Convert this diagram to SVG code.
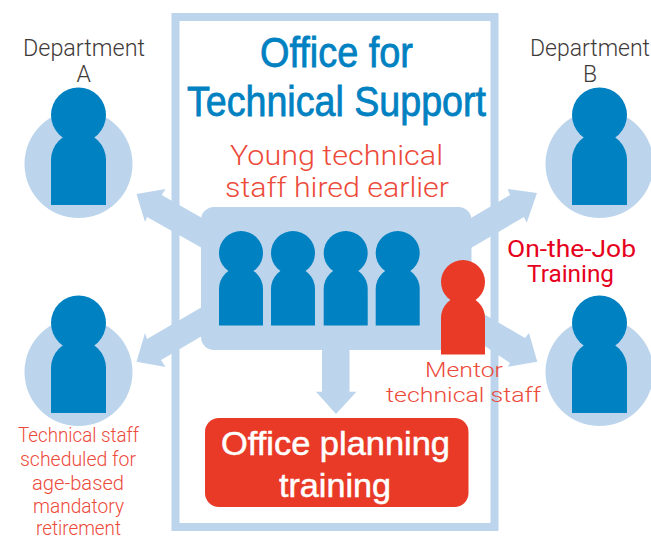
<svg xmlns="http://www.w3.org/2000/svg" width="651" height="540" viewBox="0 0 651 540">
<style>
text{font-family:"Liberation Sans",Arial,sans-serif;text-anchor:start}
.l{font-family:Roboto,"Liberation Sans",sans-serif;font-weight:300}
.arrow{fill:#bcd5ec}
.bg{fill:#bcd5ec}
.blue{fill:#0081c1}
.red{fill:#e83a27}
.dark{fill:#3e3a39;font-size:23px}
.title{fill:#0081c1;stroke:#0081c1;stroke-width:.8px;font-size:43px}
.sub{fill:#ec4a3a;font-size:28px}
.ment{fill:#ec4a3a;font-size:21px}
.ret{fill:#ec4a3a;font-size:20.5px}
.ojt{fill:#e60020;font-size:23px;font-family:Roboto,"Liberation Sans",sans-serif}
.big{fill:#fff;stroke:#fff;stroke-width:.5px;font-size:33px}
</style>
<defs>
<g id="person"><circle cx="0" cy="-49" r="27.5"/><path d="M-27.5 41V-4A27.5 27.5 0 0 1 27.5 -4V41Z"/></g>
<g id="small"><circle cx="0" cy="0" r="22"/><path d="M-22 72.500V36A22 22 0 0 1 22 36V72.500Z"/></g>
</defs>
<g id="frame"><rect x="175.500" y="17" width="319" height="510" fill="#fff" stroke="#bcd5ec" stroke-width="8"/></g>
<g id="connectors">
<path class="arrow" d="M202 218L161.700 195L165.500 189L136.500 194L145 222L147 217L202 248Z"/>
<path class="arrow" d="M471 218L510 195L507.700 189L537 193L526.700 222.700L524 217L471 248Z"/>
<path class="arrow" d="M202 307L147 339L145 333L136.500 361.700L165.500 367L161 360L202 336Z"/>
<path class="arrow" d="M470 306L525 338L529 333L537.300 361.700L507.700 366.700L510 363L470 336Z"/>
<path class="arrow" d="M322 340V391.700H316L336 414L356.500 391.700H349.500V340Z"/>
</g>
<g id="dept-a"><circle class="bg" cx="78.500" cy="164" r="54"/><use href="#person" class="blue" x="78.500" y="164"/>
<text class="l dark" x="23" y="56" textLength="122" lengthAdjust="spacingAndGlyphs">Department</text><text class="l dark" x="76.500" y="82">A</text></g>
<g id="dept-b"><circle class="bg" cx="599.500" cy="164" r="54"/><use href="#person" class="blue" x="599.500" y="164"/>
<text class="l dark" x="530" y="56" textLength="120" lengthAdjust="spacingAndGlyphs">Department</text><text class="l dark" x="583" y="82">B</text></g>
<g id="retiring"><circle class="bg" cx="78.500" cy="372" r="54"/><use href="#person" class="blue" x="78.500" y="372"/>
<text class="l ret" x="18" y="442" textLength="121" lengthAdjust="spacingAndGlyphs">Technical staff</text>
<text class="l ret" x="20" y="466" textLength="116" lengthAdjust="spacingAndGlyphs">scheduled for</text>
<text class="l ret" x="32" y="490" textLength="92" lengthAdjust="spacingAndGlyphs">age-based</text>
<text class="l ret" x="33" y="513" textLength="91" lengthAdjust="spacingAndGlyphs">mandatory</text>
<text class="l ret" x="36" y="535" textLength="85" lengthAdjust="spacingAndGlyphs">retirement</text></g>
<g id="ojt-dept"><circle class="bg" cx="599.500" cy="372" r="54"/><use href="#person" class="blue" x="599.500" y="372"/></g>
<g id="office-title">
<text class="title" x="260" y="67" textLength="153" lengthAdjust="spacingAndGlyphs">Office for</text>
<text class="title" x="187" y="116" textLength="299" lengthAdjust="spacingAndGlyphs">Technical Support</text>
<text class="l sub" x="230" y="165" textLength="213" lengthAdjust="spacingAndGlyphs">Young technical</text>
<text class="l sub" x="225" y="197" textLength="224" lengthAdjust="spacingAndGlyphs">staff hired earlier</text></g>
<g id="young-staff"><rect class="bg" x="201" y="207" width="270.500" height="143" rx="13"/>
<use href="#small" class="blue" x="241" y="253"/><use href="#small" class="blue" x="293" y="253"/><use href="#small" class="blue" x="345.700" y="253"/><use href="#small" class="blue" x="397.700" y="253"/></g>
<g id="mentor"><use href="#small" class="red" x="463" y="282"/>
<text class="l ment" x="425" y="377" textLength="78" lengthAdjust="spacingAndGlyphs">Mentor</text>
<text class="l ment" x="386" y="402" textLength="155" lengthAdjust="spacingAndGlyphs">technical staff</text></g>
<g id="ojt-label"><text class="ojt" x="507" y="257" textLength="129" lengthAdjust="spacingAndGlyphs">On-the-Job</text>
<text class="ojt" x="527" y="282" textLength="87" lengthAdjust="spacingAndGlyphs">Training</text></g>
<g id="planning"><rect class="red" x="205" y="418" width="263.500" height="89" rx="14"/>
<text class="big" x="221" y="455" textLength="229" lengthAdjust="spacingAndGlyphs">Office planning</text>
<text class="big" x="279" y="497" textLength="112" lengthAdjust="spacingAndGlyphs">training</text></g>
</svg>
